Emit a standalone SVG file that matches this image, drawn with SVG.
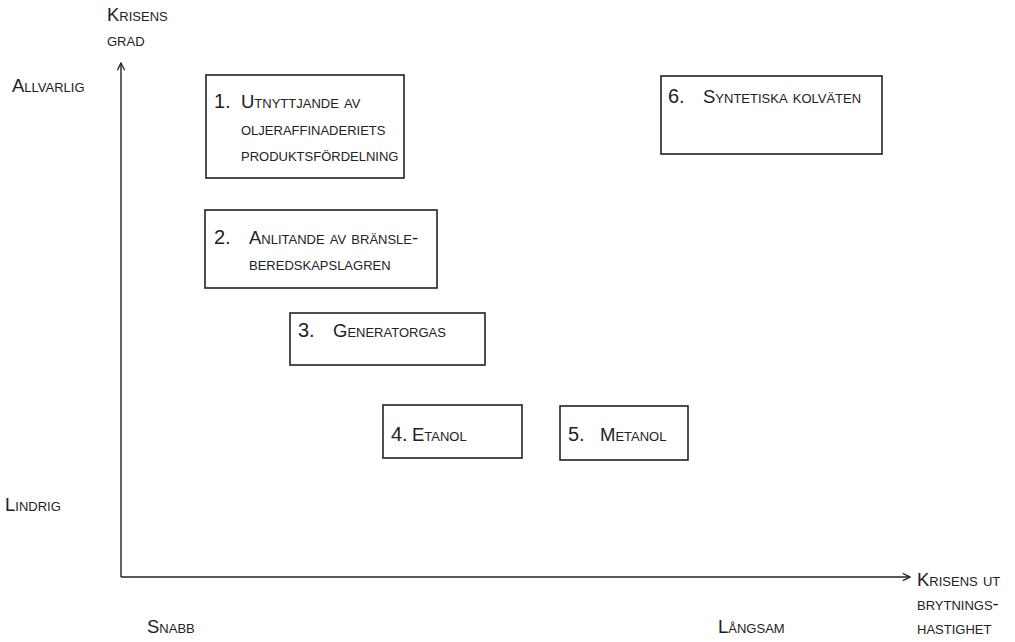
<svg xmlns="http://www.w3.org/2000/svg" width="1015" height="642" viewBox="0 0 1015 642">
<style>
.t{font-family:"Liberation Sans",Arial,sans-serif;font-size:18.5px;font-variant:small-caps;fill:#222}
.n{font-family:"Liberation Sans",Arial,sans-serif;font-size:20px;fill:#222}
.box{fill:none;stroke:#222;stroke-width:1.6}
.ax{fill:none;stroke:#222;stroke-width:1.4}
</style>
<defs>
<marker id="ah" viewBox="0 0 10 10" refX="9" refY="5" markerWidth="9" markerHeight="9" markerUnits="userSpaceOnUse" orient="auto">
<path d="M1,1 L9,5 L1,9" fill="none" stroke="#222" stroke-width="1.4"/>
</marker>
</defs>
<rect width="1015" height="642" fill="#fff"/>
<g id="connectors">
<line class="ax" x1="121" y1="577" x2="121" y2="63" marker-end="url(#ah)"/>
<line class="ax" x1="121" y1="577" x2="910" y2="577" marker-end="url(#ah)"/>
</g>
<g id="axis-labels">
<text class="t" x="107" y="21">Krisens</text>
<text class="t" x="107" y="46">grad</text>
<text class="t" x="12" y="92">Allvarlig</text>
<text class="t" x="5" y="511">Lindrig</text>
<text class="t" x="147" y="633">Snabb</text>
<text class="t" x="718" y="633">Långsam</text>
<text class="t" x="917" y="586">Krisens ut</text>
<text class="t" x="917" y="610">brytnings-</text>
<text class="t" x="917" y="634">hastighet</text>
</g>
<g id="node1">
<rect class="box" x="206" y="75" width="198" height="103"/>
<text class="n" x="214" y="108">1.</text>
<text class="t" x="241" y="108">Utnyttjande av</text>
<text class="t" x="241" y="135">oljeraffinaderiets</text>
<text class="t" x="241" y="161">produktsfördelning</text>
</g>
<g id="node2">
<rect class="box" x="205" y="210" width="232" height="78"/>
<text class="n" x="214" y="244">2.</text>
<text class="t" x="249" y="244">Anlitande av bränsle-</text>
<text class="t" x="249" y="270">beredskapslagren</text>
</g>
<g id="node3">
<rect class="box" x="290" y="313" width="195" height="52"/>
<text class="n" x="298" y="337">3.</text>
<text class="t" x="333" y="337">Generatorgas</text>
</g>
<g id="node4">
<rect class="box" x="383" y="405" width="139" height="53"/>
<text class="n" x="391" y="441">4.</text>
<text class="t" x="412" y="441">Etanol</text>
</g>
<g id="node5">
<rect class="box" x="560" y="406" width="128" height="54"/>
<text class="n" x="568" y="441">5.</text>
<text class="t" x="600" y="441">Metanol</text>
</g>
<g id="node6">
<rect class="box" x="661" y="76" width="221" height="78"/>
<text class="n" x="668" y="103">6.</text>
<text class="t" x="703" y="103">Syntetiska kolväten</text>
</g>
</svg>
